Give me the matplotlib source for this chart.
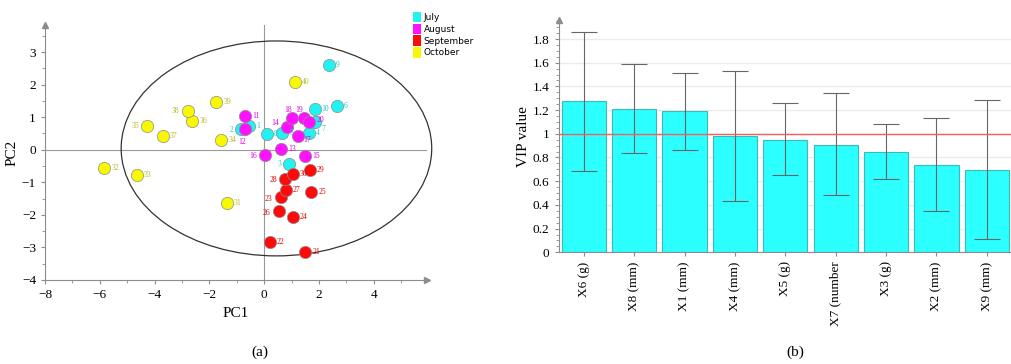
import matplotlib
matplotlib.use("Agg")
import matplotlib.pyplot as plt
import numpy as np
from matplotlib.patches import Ellipse, Patch
from matplotlib.ticker import MultipleLocator

# ---- panel (a): PCA scores per month ----
MONTHS = ["July", "August", "September", "October"]
MONTH_COLORS = ["#22F2F2", "#FF11FF", "#FF0A0A", "#F8F800"]
LABEL_COLORS = ["#1FC8C8", "#E000E0", "#E00000", "#B8B820"]

july_ids = [1, 2, 3, 4, 5, 6, 7, 8, 9, 10]
july_pc1 = [-0.54, -0.84, 0.91, 1.65, 0.66, 2.65, 1.84, 0.10, 2.36, 1.84]
july_pc2 = [0.72, 0.64, -0.43, 0.51, 0.51, 1.35, 0.84, 0.49, 2.61, 1.25]

aug_ids = [11, 12, 13, 14, 15, 16, 17, 18, 19, 20]
aug_pc1 = [-0.69, -0.69, 0.62, 0.85, 1.50, 0.05, 1.22, 1.02, 1.44, 1.65]
aug_pc2 = [1.05, 0.63, 0.02, 0.70, -0.20, -0.16, 0.43, 0.97, 0.97, 0.86]

sep_ids = [21, 22, 23, 24, 25, 26, 27, 28, 29, 30]
sep_pc1 = [1.50, 0.22, 0.61, 1.05, 1.72, 0.56, 0.80, 0.78, 1.68, 1.06]
sep_pc2 = [-3.14, -2.84, -1.46, -2.07, -1.30, -1.89, -1.23, -0.90, -0.63, -0.74]

oct_ids = [31, 32, 33, 34, 35, 36, 37, 38, 39, 40]
oct_pc1 = [-1.35, -5.84, -4.65, -1.56, -4.26, -2.62, -3.69, -2.78, -1.75, 1.12]
oct_pc2 = [-1.64, -0.55, -0.78, 0.31, 0.72, 0.89, 0.41, 1.20, 1.48, 2.07]

# ---- panel (b): VIP values ----
variables = ["X6 (g)", "X8 (mm)", "X1 (mm)", "X4 (mm)", "X5 (g)",
             "X7 (number", "X3 (g)", "X2 (mm)", "X9 (mm)"]
vip = [1.274, 1.209, 1.19, 0.979, 0.95, 0.905, 0.849, 0.739, 0.697]
vip_hi = [1.862, 1.586, 1.516, 1.53, 1.26, 1.342, 1.085, 1.133, 1.285]
vip_lo = [0.689, 0.841, 0.863, 0.433, 0.65, 0.481, 0.621, 0.348, 0.115]

SERIF = ["Liberation Serif", "DejaVu Serif"]
plt.rcParams.update({"font.family": SERIF, "font.size": 9})

fig = plt.figure(figsize=(10.12, 3.64), dpi=100)

# ---------------- (a) ----------------
ax = fig.add_axes([0.0445, 0.2308, 0.3775, 0.7005])
ax.set_xlim(-8, 5.95)
ax.set_ylim(-4, 3.83)
for s in ["top", "right"]:
    ax.spines[s].set_visible(False)
for s in ["left", "bottom"]:
    ax.spines[s].set_color("0.55")
ax.tick_params(colors="0.55", labelcolor="black", labelsize=9.5, length=3)
ax.tick_params(which="minor", colors="0.55", length=2)
ax.xaxis.set_minor_locator(MultipleLocator(1))
ax.yaxis.set_major_locator(MultipleLocator(1))
ax.yaxis.set_minor_locator(MultipleLocator(0.5))
ax.set_xticks([-8, -6, -4, -2, 0, 2, 4])
ax.plot(1, 0, ">", color="0.55", ms=5, transform=ax.transAxes, clip_on=False)
ax.plot(0, 1, "^", color="0.55", ms=5, transform=ax.transAxes, clip_on=False)
ax.axhline(0, color="0.6", lw=0.8, zorder=1)
ax.axvline(0, color="0.6", lw=0.8, zorder=1)
ax.add_patch(Ellipse((0.45, 0.04), 2 * 5.67, 2 * 3.3, fill=False,
                     ec="0.2", lw=0.9, zorder=1, clip_on=False))

groups = [(july_ids, july_pc1, july_pc2), (aug_ids, aug_pc1, aug_pc2),
          (sep_ids, sep_pc1, sep_pc2), (oct_ids, oct_pc1, oct_pc2)]
# label offsets (points) for numbers that sit left / above / below their dot
offsets = {2: (-7, -1), 12: (-2, -9), 14: (-9, 3), 18: (-3, 6), 16: (-9, -1),
           28: (-9, -1), 23: (-9, -1), 26: (-9, -1), 35: (-9, 0), 38: (-9, 0),
           3: (-7, 0), 17: (4, -3), 19: (-3, 6), 7: (5, -5), 20: (5, 1)}
for (ids, xs, ys), col, lcol in zip(groups, MONTH_COLORS, LABEL_COLORS):
    ax.scatter(xs, ys, s=78, c=col, edgecolors="0.55", linewidths=0.5, zorder=3)
    for i, x, y in zip(ids, xs, ys):
        dx, dy = offsets.get(i, (5, 0))
        ax.annotate(str(i), (x, y), xytext=(dx, dy), textcoords="offset points",
                    fontsize=5.5, color=lcol, va="center",
                    ha="left" if dx > 0 else "center", zorder=4)

ax.set_xlabel("PC1", fontsize=11, labelpad=4)
ax.set_ylabel("PC2", fontsize=11, labelpad=2)

handles = [Patch(fc=c, ec="none") for c in MONTH_COLORS]
fig.legend(handles, MONTHS, loc="upper left", bbox_to_anchor=(0.400, 0.99),
           frameon=False, handlelength=0.9, handleheight=1.4, handletextpad=0.3,
           labelspacing=0.15, prop={"family": "DejaVu Sans", "size": 6.5})

# ---------------- (b) ----------------
bx = fig.add_axes([0.552, 0.3069, 0.448, 0.638])
pos = np.arange(len(variables))
vip_arr = np.array(vip)
yerr = [vip_arr - np.array(vip_lo), np.array(vip_hi) - vip_arr]
bx.bar(pos, vip, width=0.88, color="#2BFFFF", edgecolor="#40B8B8", lw=0.8, zorder=2)
bx.errorbar(pos, vip, yerr=yerr, fmt="none", ecolor="0.4", elinewidth=0.8,
            capsize=9.5, capthick=0.8, zorder=3)
bx.axhline(1.0, color="#F06060", lw=1.0, zorder=4)
bx.set_xlim(-0.5, 8.5)
bx.set_ylim(0, 1.96)
bx.yaxis.set_minor_locator(MultipleLocator(0.05))
bx.set_yticks(np.arange(0, 1.81, 0.2))
bx.set_yticklabels(["0", "0.2", "0.4", "0.6", "0.8", "1", "1.2", "1.4", "1.6", "1.8"])
bx.grid(axis="y", color="0.92", lw=1.0, zorder=0)
bx.set_xticks(pos)
bx.set_xticklabels(variables, rotation=90, fontsize=9.5)
for s in ["top", "right"]:
    bx.spines[s].set_visible(False)
for s in ["left", "bottom"]:
    bx.spines[s].set_color("0.55")
bx.tick_params(colors="0.55", labelcolor="black", labelsize=9.5, length=3)
bx.tick_params(which="minor", colors="0.55", length=2)
bx.plot(0, 1, "^", color="0.55", ms=5, transform=bx.transAxes, clip_on=False)
bx.set_ylabel("VIP value", fontsize=11, labelpad=2)

fig.text(260 / 1012, 1 - 352 / 364, "(a)", ha="center", va="center", fontsize=11)
fig.text(795 / 1012, 1 - 352 / 364, "(b)", ha="center", va="center", fontsize=11)

fig.savefig("out.png", dpi=100)
